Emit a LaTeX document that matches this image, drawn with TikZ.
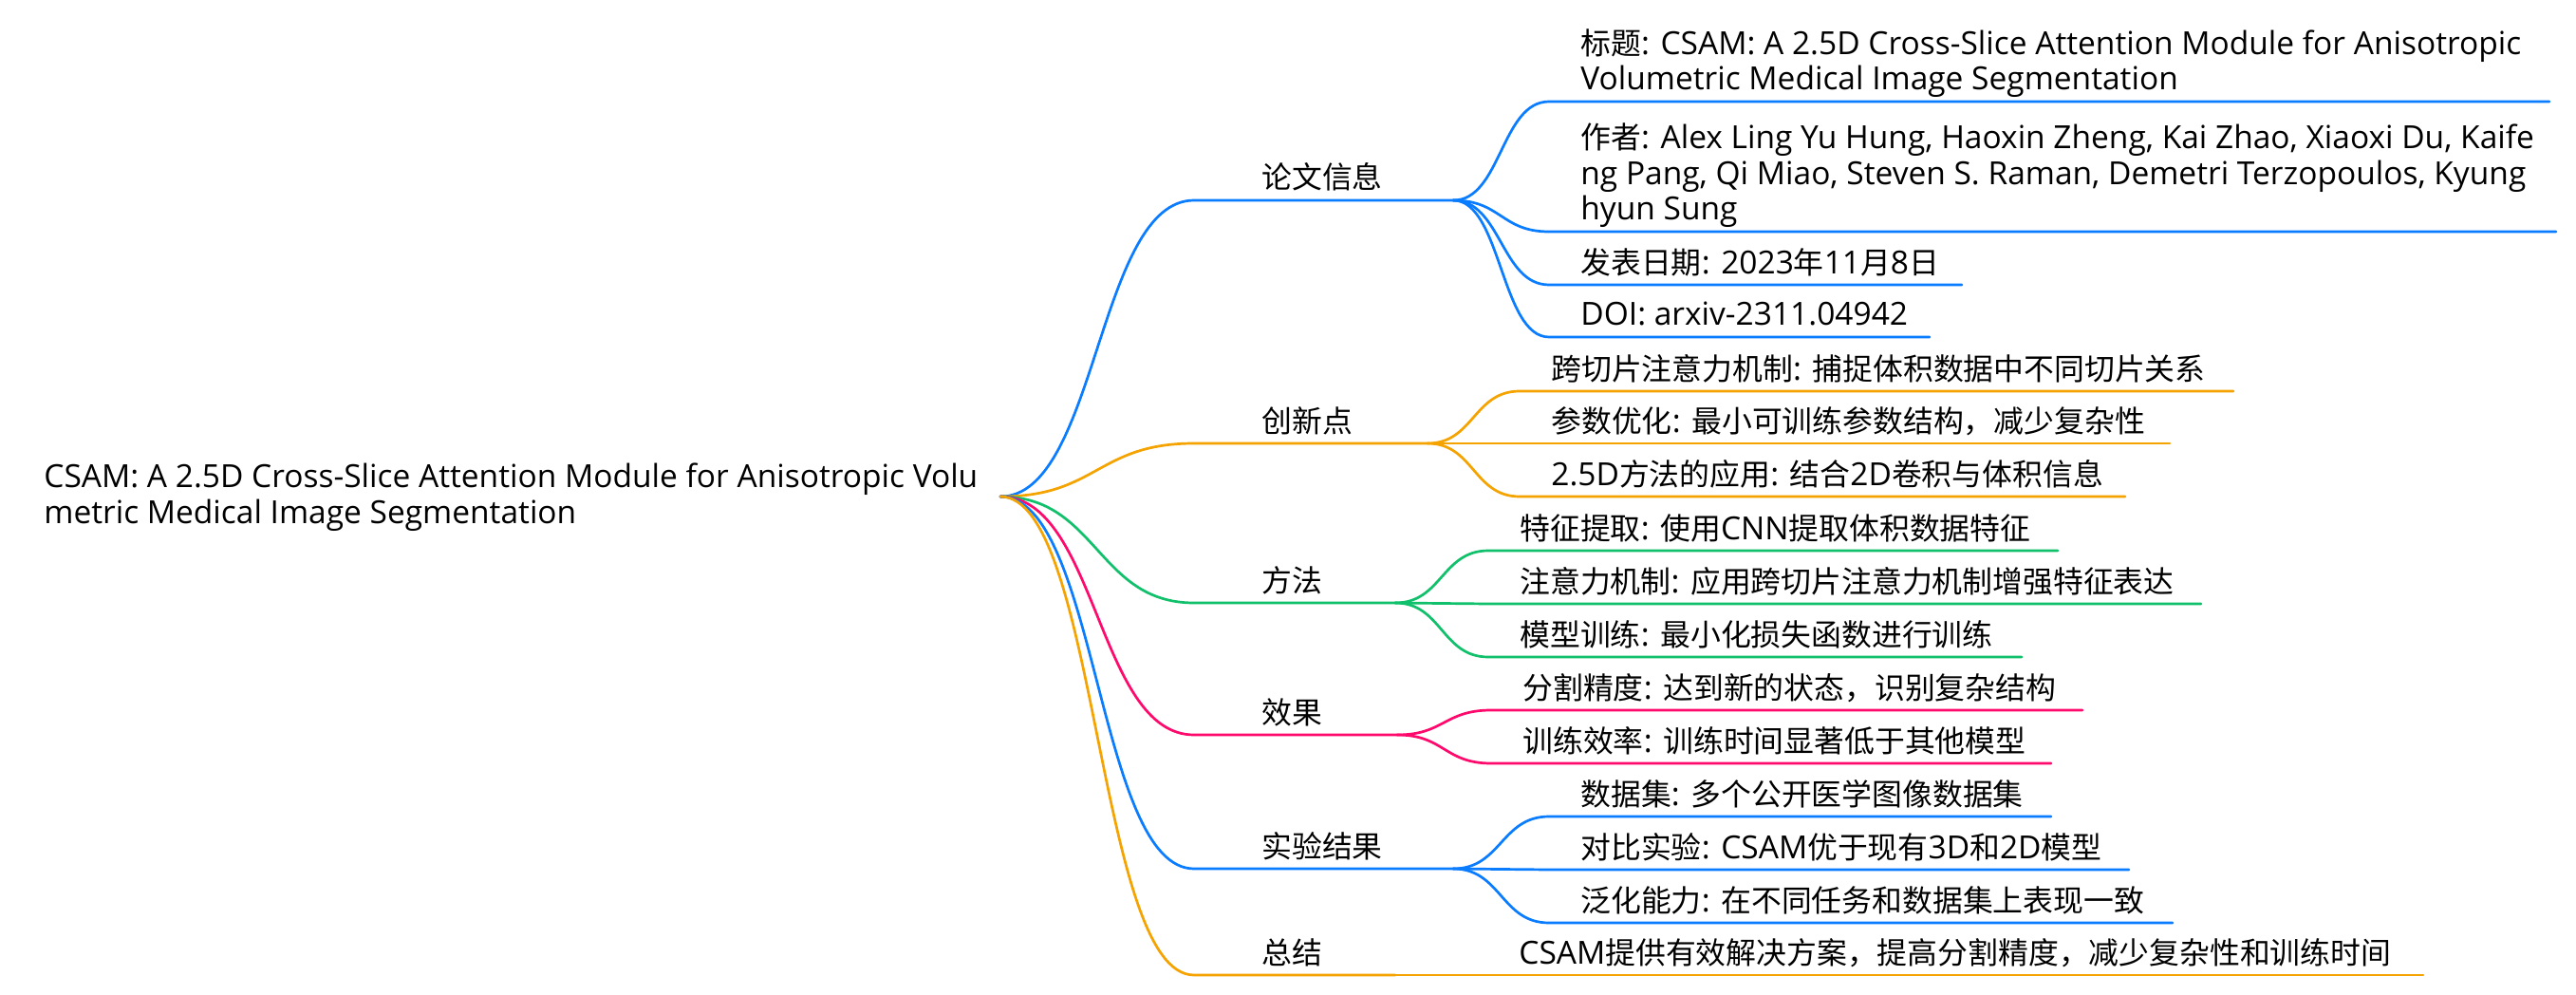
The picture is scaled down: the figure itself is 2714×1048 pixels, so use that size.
\documentclass[tikz,border=0pt]{standalone}
\usepackage{fontspec}
\usetikzlibrary{calc}
\setmainfont{Open Sans}[Scale=1.015]
\newfontfamily\latinfont{Open Sans}[Scale=1.015]
\newfontfamily\cjkfont{Noto Sans CJK SC}[Scale=0.965]
\XeTeXinterchartokenstate=1
\newXeTeXintercharclass\mmCJKclass
\newcount\mmc
\def\mmsetrange#1#2{\mmc=#1\relax\loop\XeTeXcharclass\mmc=\mmCJKclass\relax\ifnum\mmc<#2\relax\advance\mmc by 1\relax\repeat}
\mmsetrange{"4E00}{"9FFF}
\mmsetrange{"3000}{"303F}
\mmsetrange{"FF00}{"FFEF}
\XeTeXinterchartoks 0 \mmCJKclass = {\cjkfont}
\XeTeXinterchartoks 4095 \mmCJKclass = {\cjkfont}
\XeTeXinterchartoks \mmCJKclass 0 = {\latinfont}
\XeTeXinterchartoks \mmCJKclass 4095 = {\latinfont}
\definecolor{mmblue}{HTML}{0A7CFF}
\definecolor{mmorange}{HTML}{F5A300}
\definecolor{mmgreen}{HTML}{10C06A}
\definecolor{mmpink}{HTML}{FF0A6C}
\newcommand\mmbranch[4]{\draw[lk,#1] let \p1=(#2), \p2=(#3) in (\p1) .. controls ({(\x1+\x2)/2},\y1) and ({(\x1+\x2)/2},\y2) .. (\p2) -- (#4);}
\begin{document}
\begin{tikzpicture}[x=0.5pt,y=-0.5pt,
  txt/.style={anchor=base west, inner sep=0pt, align=left, font=\fontsize{16.5}{18.75}\selectfont, text=black},
  lk/.style={line width=1.35pt, line cap=round, line join=round}]
\useasboundingbox[fill=white] (0,0) rectangle (2714,1048);
% root
\node[txt] (troot) at (46,551) {CSAM: A 2.5D Cross-Slice Attention Module for Anisotropic Volu\\metric Medical Image Segmentation};
\coordinate (r) at (1054,523);
% level 1 coordinates
\coordinate (As) at (1258,211); \coordinate (Ae) at (1531,211);
\coordinate (Bs) at (1258,467); \coordinate (Be) at (1504,467);
\coordinate (Cs) at (1258,635); \coordinate (Ce) at (1470,635);
\coordinate (Ds) at (1258,774); \coordinate (De) at (1472,774);
\coordinate (Es) at (1258,915); \coordinate (Ee) at (1531,915);
\coordinate (Fs) at (1258,1027); \coordinate (Fe) at (1470,1027);
% level 2 coordinates
\coordinate (A1s) at (1632,107); \coordinate (A1e) at (2686,107);
\coordinate (A2s) at (1632,244); \coordinate (A2e) at (2693,244);
\coordinate (A3s) at (1632,300); \coordinate (A3e) at (2067,300);
\coordinate (A4s) at (1632,355); \coordinate (A4e) at (2033,355);
\coordinate (B1s) at (1601,412); \coordinate (B1e) at (2353,412);
\coordinate (B2s) at (1601,467); \coordinate (B2e) at (2286,467);
\coordinate (B3s) at (1601,523); \coordinate (B3e) at (2239,523);
\coordinate (C1s) at (1568,580); \coordinate (C1e) at (2168,580);
\coordinate (C2s) at (1568,636); \coordinate (C2e) at (2319,636);
\coordinate (C3s) at (1568,692); \coordinate (C3e) at (2130,692);
\coordinate (D1s) at (1571,748); \coordinate (D1e) at (2194,748);
\coordinate (D2s) at (1571,804); \coordinate (D2e) at (2161,804);
\coordinate (E1s) at (1632,860); \coordinate (E1e) at (2161,860);
\coordinate (E2s) at (1632,916); \coordinate (E2e) at (2243,916);
\coordinate (E3s) at (1632,972); \coordinate (E3e) at (2289,972);
\coordinate (F1s) at (1567,1027); \coordinate (F1e) at (2553,1027);
% links
\mmbranch{mmblue}{r}{As}{Ae}
\mmbranch{mmorange}{r}{Bs}{Be}
\mmbranch{mmgreen}{r}{Cs}{Ce}
\mmbranch{mmpink}{r}{Ds}{De}
\mmbranch{mmblue}{r}{Es}{Ee}
\mmbranch{mmorange}{r}{Fs}{Fe}
\mmbranch{mmblue}{Ae}{A1s}{A1e}
\mmbranch{mmblue}{Ae}{A2s}{A2e}
\mmbranch{mmblue}{Ae}{A3s}{A3e}
\mmbranch{mmblue}{Ae}{A4s}{A4e}
\mmbranch{mmorange}{Be}{B1s}{B1e}
\mmbranch{mmorange}{Be}{B2s}{B2e}
\mmbranch{mmorange}{Be}{B3s}{B3e}
\mmbranch{mmgreen}{Ce}{C1s}{C1e}
\mmbranch{mmgreen}{Ce}{C2s}{C2e}
\mmbranch{mmgreen}{Ce}{C3s}{C3e}
\mmbranch{mmpink}{De}{D1s}{D1e}
\mmbranch{mmpink}{De}{D2s}{D2e}
\mmbranch{mmblue}{Ee}{E1s}{E1e}
\mmbranch{mmblue}{Ee}{E2s}{E2e}
\mmbranch{mmblue}{Ee}{E3s}{E3e}
\mmbranch{mmorange}{Fe}{F1s}{F1e}
% level 1 text
\node[txt] (tA) at (1329,199) {论文信息};
\node[txt] (tB) at (1329,455) {创新点};
\node[txt] (tC) at (1329,623) {方法};
\node[txt] (tD) at (1329,762) {效果};
\node[txt] (tE) at (1329,903) {实验结果};
\node[txt] (tF) at (1329,1015) {总结};
% level 2 text
\node[txt] (tA1) at (1665,95) {标题: CSAM: A 2.5D Cross-Slice Attention Module for Anisotropic\\Volumetric Medical Image Segmentation};
\node[txt] (tA2) at (1665,232) {作者: Alex Ling Yu Hung, Haoxin Zheng, Kai Zhao, Xiaoxi Du, Kaife\\ng Pang, Qi Miao, Steven S. Raman, Demetri Terzopoulos, Kyung\\hyun Sung};
\node[txt] (tA3) at (1665,288) {发表日期: 2023年11月8日};
\node[txt] (tA4) at (1665,343) {DOI: arxiv-2311.04942};
\node[txt] (tB1) at (1634,400) {跨切片注意力机制: 捕捉体积数据中不同切片关系};
\node[txt] (tB2) at (1634,455) {参数优化: 最小可训练参数结构，减少复杂性};
\node[txt] (tB3) at (1634,511) {2.5D方法的应用: 结合2D卷积与体积信息};
\node[txt] (tC1) at (1601,568) {特征提取: 使用CNN提取体积数据特征};
\node[txt] (tC2) at (1601,624) {注意力机制: 应用跨切片注意力机制增强特征表达};
\node[txt] (tC3) at (1601,680) {模型训练: 最小化损失函数进行训练};
\node[txt] (tD1) at (1604,736) {分割精度: 达到新的状态，识别复杂结构};
\node[txt] (tD2) at (1604,792) {训练效率: 训练时间显著低于其他模型};
\node[txt] (tE1) at (1665,848) {数据集: 多个公开医学图像数据集};
\node[txt] (tE2) at (1665,904) {对比实验: CSAM优于现有3D和2D模型};
\node[txt] (tE3) at (1665,960) {泛化能力: 在不同任务和数据集上表现一致};
\node[txt] (tF1) at (1600,1015) {CSAM提供有效解决方案，提高分割精度，减少复杂性和训练时间};
\end{tikzpicture}
\end{document}
